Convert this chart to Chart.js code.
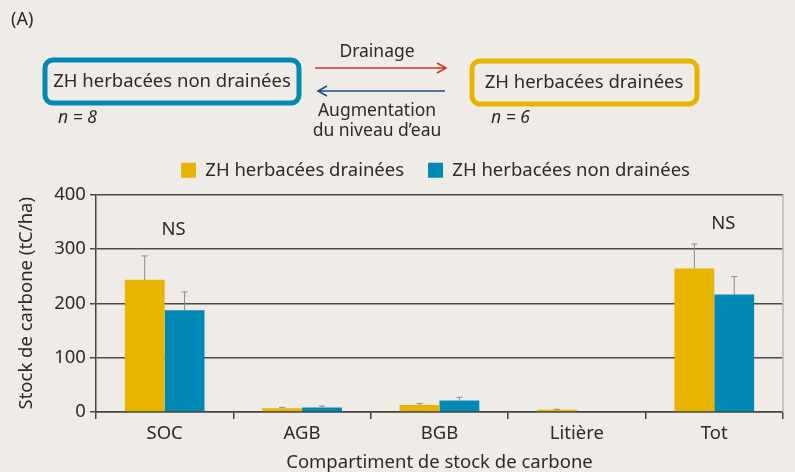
<!DOCTYPE html>
<html lang="fr">
<head>
  <meta charset="UTF-8">
  <title>Stock de carbone</title>
  <script src="https://cdn.jsdelivr.net/npm/chart.js@4/dist/chart.umd.min.js"></script>
  <style>
    html, body { margin: 0; padding: 0; background: #efece7; }
    #wrap { width: 795px; height: 472px; position: relative; }
  </style>
</head>
<body>
  <div id="wrap"><canvas id="myChart" width="795" height="472"></canvas></div>

<script>
// donnees
const categories = ['SOC', 'AGB', 'BGB', 'Litière', 'Tot'];
const drained = [243, 7, 13, 4, 264];
const drainedErr = [44, 1.5, 2.5, 1, 45];
const undrained = [187, 8.5, 21, 0, 216];
const undrainedErr = [34, 2.5, 6, 0, 33];
const nsLabels = ['NS', '', '', '', 'NS'];
const nsValues = [336, null, null, null, 347];
const yTicks = [0, 100, 200, 300, 400];

const YELLOW = '#e8b400';
const BLUE = '#0089b4';
const TXT = '#2b2b2b';
const FONT = "'Noto Sans', sans-serif";
const FS = 18.5;

// barres d'erreur (uniquement vers le haut) + NS + bord droit
const errorBars = {
  id: 'errorBars',
  afterDatasetsDraw(chart) {
    const ctx = chart.ctx;
    const y = chart.scales.y;
    const errs = [drainedErr, undrainedErr];
    ctx.save();
    ctx.strokeStyle = '#8a8a8a';
    ctx.lineWidth = 1;
    chart.data.datasets.forEach((ds, i) => {
      const meta = chart.getDatasetMeta(i);
      meta.data.forEach((bar, j) => {
        const e = errs[i][j];
        if (!e) return;
        const top = y.getPixelForValue(ds.data[j] + e);
        ctx.beginPath();
        ctx.moveTo(bar.x, bar.y);
        ctx.lineTo(bar.x, top);
        ctx.moveTo(bar.x - 3, top);
        ctx.lineTo(bar.x + 3, top);
        ctx.stroke();
      });
    });
    ctx.fillStyle = TXT;
    ctx.font = FS + 'px ' + FONT;
    ctx.textAlign = 'center';
    ctx.textBaseline = 'middle';
    const x = chart.scales.x;
    nsLabels.forEach((t, j) => {
      if (!t) return;
      ctx.fillText(t, x.getPixelForValue(j) + 9, y.getPixelForValue(nsValues[j]));
    });
    const a = chart.chartArea;
    ctx.strokeStyle = '#bdbab5';
    ctx.lineWidth = 1.5;
    ctx.beginPath();
    ctx.moveTo(a.right, a.top);
    ctx.lineTo(a.right, a.bottom);
    ctx.stroke();
    ctx.restore();
  }
};

// decale la legende pour la centrer comme sur la figure
const legendShift = {
  id: 'legendShift',
  afterLayout(chart) {
    const lg = chart.legend;
    lg.left += 36; lg.right += 36;
    lg.top -= 5; lg.bottom -= 5;
  }
};

// schema du haut
function arrow(ctx, x1, x2, yy, color) {
  const dir = x2 > x1 ? 1 : -1;
  ctx.strokeStyle = color;
  ctx.lineWidth = 1.6;
  ctx.beginPath();
  ctx.moveTo(x1, yy);
  ctx.lineTo(x2, yy);
  ctx.moveTo(x2 - dir * 9, yy - 5);
  ctx.lineTo(x2, yy);
  ctx.lineTo(x2 - dir * 9, yy + 5);
  ctx.stroke();
}

const header = {
  id: 'header',
  afterDraw(chart) {
    const ctx = chart.ctx;
    ctx.save();
    ctx.fillStyle = TXT;
    ctx.textBaseline = 'middle';
    ctx.font = '18px ' + FONT;
    ctx.textAlign = 'left';
    ctx.fillText('(A)', 11, 20);

    ctx.lineWidth = 5;
    ctx.strokeStyle = BLUE;
    ctx.beginPath();
    ctx.roundRect(45, 60, 254, 43, 8);
    ctx.stroke();
    ctx.strokeStyle = YELLOW;
    ctx.beginPath();
    ctx.roundRect(472, 61, 225, 43, 8);
    ctx.stroke();

    ctx.textAlign = 'center';
    ctx.font = FS + 'px ' + FONT;
    ctx.fillText('ZH herbacées non drainées', 172, 82);
    ctx.fillText('ZH herbacées drainées', 584, 83);

    ctx.font = '17.5px ' + FONT;
    ctx.fillText('Drainage', 377, 52);
    ctx.fillText('Augmentation', 377, 111);
    ctx.fillText('du niveau d\u2019eau', 377, 131);

    arrow(ctx, 315, 446, 68, '#d9322b');
    arrow(ctx, 445, 318, 91, '#1f4e85');

    ctx.font = 'italic 17.5px ' + FONT;
    ctx.textAlign = 'left';
    ctx.fillText('n = 8', 58, 118);
    ctx.fillText('n = 6', 491, 118);
    ctx.restore();
  }
};

const data = {
  labels: categories,
  datasets: [
    { label: 'ZH herbacées drainées', data: drained, backgroundColor: YELLOW },
    { label: 'ZH herbacées non drainées', data: undrained, backgroundColor: BLUE }
  ]
};

const config = {
  type: 'bar',
  data: data,
  plugins: [legendShift, errorBars, header],
  options: {
    responsive: false,
    animation: false,
    layout: { padding: { top: 142, right: 12, left: 16, bottom: 0 } },
    datasets: { bar: { categoryPercentage: 0.58, barPercentage: 1 } },
    plugins: {
      tooltip: { enabled: false },
      legend: {
        position: 'top',
        labels: {
          color: TXT,
          font: { family: FONT, size: FS },
          boxWidth: 15, boxHeight: 15, padding: 24
        }
      }
    },
    scales: {
      x: {
        grid: { drawOnChartArea: false, drawTicks: true, tickLength: 7, offset: true, color: '#444', lineWidth: 1.5 },
        border: { color: '#444', width: 1.5 },
        ticks: { color: TXT, font: { family: FONT, size: FS, lineHeight: 1 }, padding: 5 },
        title: { display: true, text: 'Compartiment de stock de carbone', color: TXT, font: { family: FONT, size: FS, lineHeight: 1 }, padding: { top: 6, bottom: 0 } }
      },
      y: {
        min: 0, max: 400,
        afterBuildTicks: (s) => { s.ticks = yTicks.map(v => ({ value: v })); },
        grid: { color: '#4a4a4a', lineWidth: 1.5, tickLength: 6 },
        border: { color: '#444', width: 1.5 },
        ticks: { color: TXT, font: { family: FONT, size: FS }, padding: 4 },
        title: { display: true, text: 'Stock de carbone (tC/ha)', color: TXT, font: { family: FONT, size: FS }, padding: { top: 0, bottom: 12 } }
      }
    }
  }
};

const myChart = new Chart(document.getElementById('myChart'), config);
</script>
</body>
</html>
